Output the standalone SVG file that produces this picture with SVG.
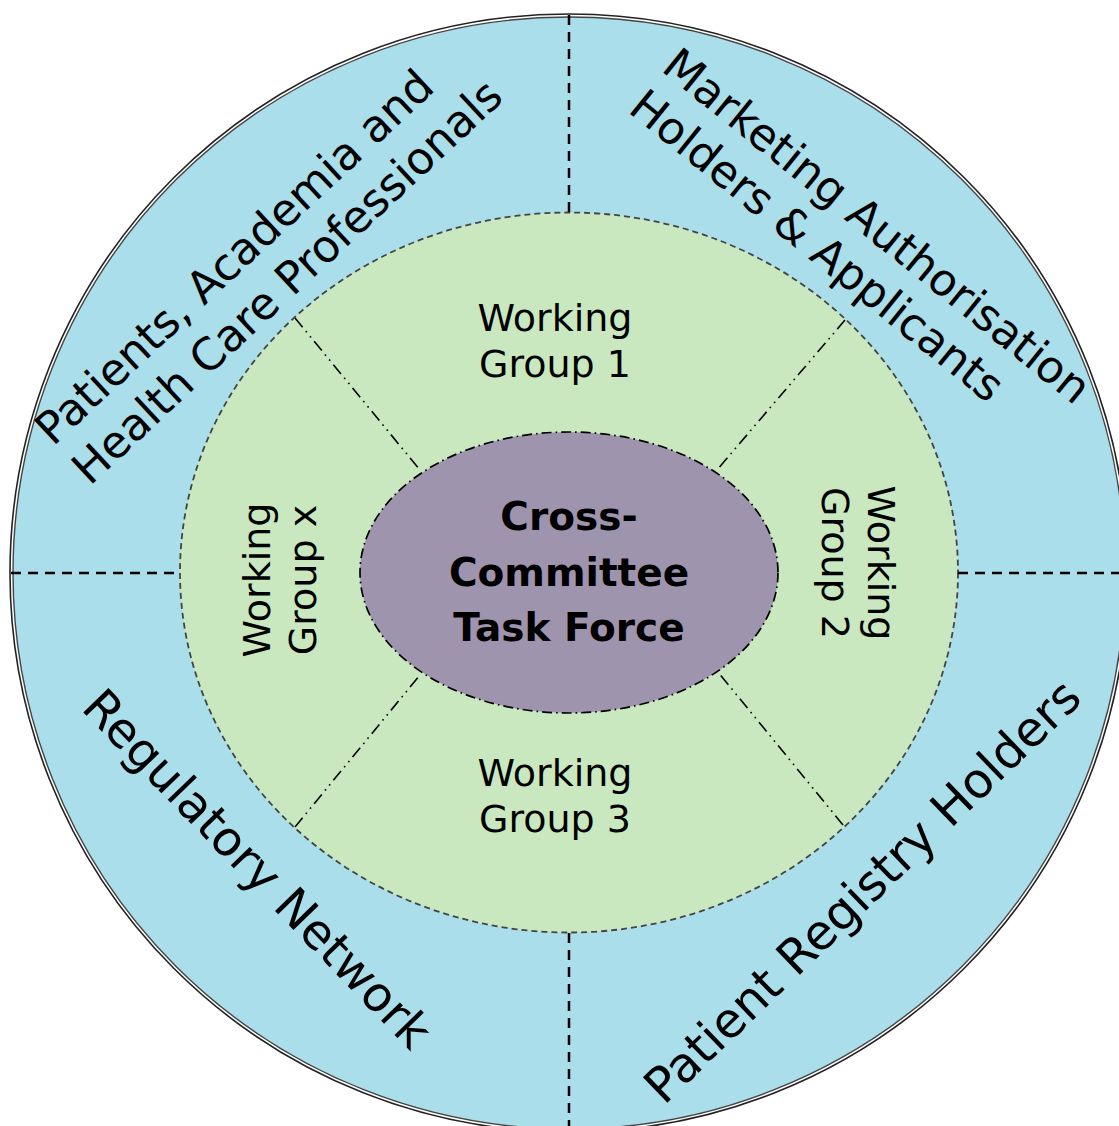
<svg xmlns="http://www.w3.org/2000/svg" width="1119" height="1126" viewBox="0 0 1119 1126">
<style>
.lbl{font-family:"DejaVu Sans","Liberation Sans",sans-serif;fill:#000}
.ring{font-size:44.5px}
.wg{font-size:38px;text-anchor:middle}
.core{font-size:39px;font-weight:bold;text-anchor:middle}
.dash{stroke:#000;stroke-width:2.5;stroke-dasharray:10 7;fill:none}
.dd{stroke:#000;stroke-width:1.6;stroke-dasharray:12 5 1.6 5 1.6 5;fill:none}
</style>
<rect width="1119" height="1126" fill="#fff"/>
<g id="outer-ring">
<circle cx="569" cy="573" r="559" fill="#fff" stroke="#222" stroke-width="1.6"/>
<circle cx="569" cy="573" r="556" fill="#aadeea" stroke="#444" stroke-width="1.4"/>
</g>
<g id="working-groups-ring">
<ellipse cx="569" cy="572.5" rx="389" ry="360" fill="#c9e8c0" stroke="#444" stroke-width="1.8" stroke-dasharray="6 4"/>
</g>
<g id="task-force">
<ellipse cx="569" cy="572.5" rx="209" ry="140.5" fill="#9f94ae" stroke="#000" stroke-width="1.7" stroke-dasharray="10 4 1.6 4"/>
<text class="lbl core" x="569" y="530">Cross-</text>
<text class="lbl core" x="569" y="586">Committee</text>
<text class="lbl core" x="569" y="641">Task Force</text>
</g>
<g id="connectors">
<line class="dash" x1="569" y1="15" x2="569" y2="213"/>
<line class="dash" x1="569" y1="933" x2="569" y2="1126"/>
<line class="dash" x1="11" y1="573" x2="180" y2="573"/>
<line class="dash" x1="958" y1="573" x2="1119" y2="573"/>
<line class="dd" x1="295" y1="318" x2="420" y2="470"/>
<line class="dd" x1="845" y1="320" x2="717" y2="470"/>
<line class="dd" x1="295" y1="827" x2="420" y2="675"/>
<line class="dd" x1="843" y1="825" x2="718" y2="672"/>
</g>
<g id="patients-academia">
<text class="lbl ring" transform="translate(53,447) rotate(-43)"><tspan x="0" y="0">Patients, Academia and</tspan><tspan x="0" y="54">Health Care Professionals</tspan></text>
</g>
<g id="marketing-authorisation">
<text class="lbl ring" transform="translate(660,70) rotate(39)"><tspan x="0" y="0">Marketing Authorisation</tspan><tspan x="0" y="53">Holders &amp; Applicants</tspan></text>
</g>
<g id="regulatory-network">
<text class="lbl" font-size="48" transform="translate(80,709) rotate(46)">Regulatory Network</text>
</g>
<g id="patient-registry">
<text class="lbl" font-size="48.5" transform="translate(664,1106) rotate(-44)">Patient Registry Holders</text>
</g>
<g id="wg1">
<text class="lbl wg" x="555" y="331">Working</text>
<text class="lbl wg" x="555" y="377">Group 1</text>
</g>
<g id="wg3">
<text class="lbl wg" x="555" y="786">Working</text>
<text class="lbl wg" x="555" y="832">Group 3</text>
</g>
<g id="wgx">
<text class="lbl wg" transform="translate(270,580) rotate(-90)"><tspan x="0" y="0">Working</tspan><tspan x="0" y="46">Group x</tspan></text>
</g>
<g id="wg2">
<text class="lbl wg" transform="translate(868,563) rotate(90)"><tspan x="0" y="0">Working</tspan><tspan x="0" y="46">Group 2</tspan></text>
</g>
</svg>
